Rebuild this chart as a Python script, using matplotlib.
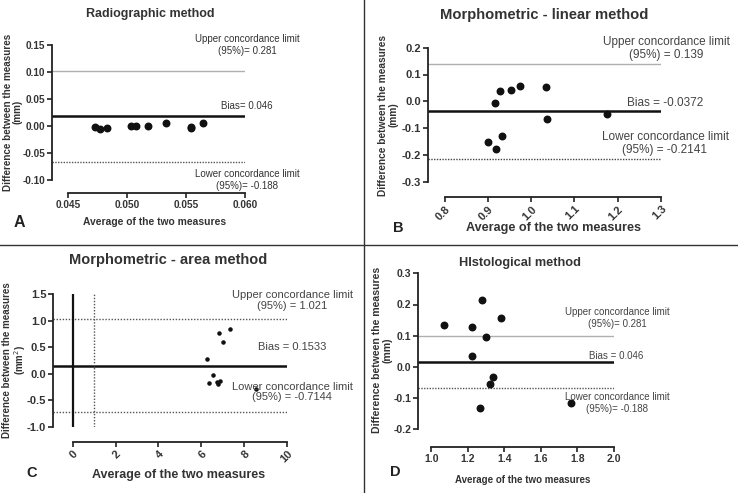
import matplotlib
matplotlib.use('Agg')
import matplotlib.pyplot as plt
from matplotlib.lines import Line2D

plt.rcParams['font.family'] = ['Liberation Sans', 'DejaVu Sans']

W, H = 738, 493

# ---------------- data ----------------
# A - radiographic
a_x = [0.0473, 0.0477, 0.0483, 0.0503, 0.0508, 0.0518, 0.0533, 0.0554, 0.0554, 0.0564]
a_y = [-0.001, -0.006, -0.003, 0.000, 0.000, 0.000, 0.005, -0.001, -0.004, 0.005]
a_lines = [0.102, 0.018, -0.066]   # upper, bias, lower

# B - morphometric linear
b_x = [0.900, 0.919, 0.917, 0.927, 0.932, 0.954, 0.973, 1.035, 1.037, 1.175]
b_y = [-0.153, -0.179, -0.006, 0.039, -0.129, 0.042, 0.057, 0.052, -0.067, -0.047]
b_lines = [0.139, -0.0372, -0.2141]

# C - morphometric area
c_x = [6.81, 7.01, 7.33, 6.24, 6.52, 6.35, 6.72, 6.86, 6.78, 8.55]
c_y = [0.775, 0.60, 0.84, 0.276, -0.02, -0.175, -0.16, -0.13, -0.20, -0.29]
c_lines = [1.021, 0.1533, -0.7144]
c_vlines = [0.0, 1.0]

# D - histological
d_x = [1.071, 1.224, 1.277, 1.383, 1.297, 1.221, 1.336, 1.321, 1.268, 1.765]
d_y = [0.133, 0.128, 0.216, 0.158, 0.095, 0.036, -0.031, -0.055, -0.132, -0.116]
d_lines = [0.100, 0.016, -0.069]

PX = 72 / 100  # points per pixel


def add_ax(l, t, r, b):
    return fig.add_axes([l / W, 1 - b / H, (r - l) / W, (b - t) / H])


def ftext(x, y, s, **kw):
    kw.setdefault('ha', 'center')
    kw.setdefault('va', 'center')
    fig.text(x / W, 1 - y / H, s, **kw)


def style(ax, off_px, xb, yb, ticksize=7.5, rot=False):
    for s in ['top', 'right']:
        ax.spines[s].set_visible(False)
    for s in ['left', 'bottom']:
        ax.spines[s].set_linewidth(1.3)
        ax.spines[s].set_color('#222222')
    ax.spines['bottom'].set_position(('outward', off_px * PX))
    ax.spines['bottom'].set_bounds(*xb)
    ax.spines['left'].set_bounds(*yb)
    ax.tick_params(direction='out', length=3.5, width=1.2, color='#222222',
                   labelsize=ticksize, pad=1.5)
    for lab in ax.get_xticklabels() + ax.get_yticklabels():
        lab.set_fontweight('bold')
        lab.set_color('#333333')
    if rot:
        for lab in ax.get_xticklabels():
            lab.set_rotation(45)
            lab.set_ha('right')
            lab.set_va('top')
            lab.set_rotation_mode('anchor')


fig = plt.figure(figsize=(W / 100, H / 100), dpi=100)

# ---------------- A ----------------
ax = add_ax(52, 45, 245, 180)
ax.set_xlim(0.04364, 0.060)
ax.set_ylim(-0.10, 0.15)
ax.axhline(a_lines[0], color='#b0b0b0', lw=1)
ax.axhline(a_lines[1], color='#111111', lw=1.8)
ax.axhline(a_lines[2], color='#555555', lw=1, ls=(0, (1, 1)))
ax.scatter(a_x, a_y, s=22, color='#111111', zorder=3)
ax.set_xticks([0.045, 0.050, 0.055, 0.060])
ax.set_xticklabels(['0.045', '0.050', '0.055', '0.060'])
ax.set_yticks([-0.10, -0.05, 0.00, 0.05, 0.10, 0.15])
ax.set_yticklabels(['-0.10', '-0.05', '0.00', '0.05', '0.10', '0.15'])
style(ax, 13, (0.045, 0.060), (-0.10, 0.15), ticksize=7.2)
ftext(150, 14, 'Radiographic method', fontsize=9, fontweight='bold', color='#333333')
ftext(13, 112, 'Difference between the measures\n(mm)', rotation=90, fontsize=7.1,
      fontweight='bold', color='#333333', linespacing=1.0)
ftext(155, 222, 'Average of the two measures', fontsize=7.4, fontweight='bold', color='#333333')
ftext(19, 222, 'A', fontsize=11.5, fontweight='bold', color='#222222')
ftext(247, 45, 'Upper concordance limit\n(95%)= 0.281', fontsize=7, color='#333333', linespacing=1.15)
ftext(247, 106, 'Bias= 0.046', fontsize=7, color='#333333')
ftext(247, 180, 'Lower concordance limit\n(95%)= -0.188', fontsize=7, color='#333333', linespacing=1.15)

# ---------------- B ----------------
ax = add_ax(428, 47.7, 661, 181.7)
ax.set_xlim(0.7615, 1.3)
ax.set_ylim(-0.3, 0.2)
ax.axhline(b_lines[0], color='#b0b0b0', lw=1)
ax.axhline(b_lines[1], color='#111111', lw=1.8)
ax.axhline(b_lines[2], color='#444444', lw=1, ls=(0, (1, 1)))
ax.scatter(b_x, b_y, s=22, color='#111111', zorder=3)
ax.set_xticks([0.8, 0.9, 1.0, 1.1, 1.2, 1.3])
ax.set_xticklabels(['0.8', '0.9', '1.0', '1.1', '1.2', '1.3'])
ax.set_yticks([-0.3, -0.2, -0.1, 0.0, 0.1, 0.2])
ax.set_yticklabels(['-0.3', '-0.2', '-0.1', '0.0', '0.1', '0.2'])
style(ax, 15.3, (0.8, 1.3), (-0.3, 0.2), ticksize=8, rot=True)
ftext(544, 15, 'Morphometric - linear method', fontsize=10.6, fontweight='bold', color='#333333')
ftext(388, 115, 'Difference between the measures\n(mm)', rotation=90, fontsize=7.3,
      fontweight='bold', color='#333333', linespacing=1.1)
ftext(553, 228, 'Average of the two measures', fontsize=9.1, fontweight='bold', color='#333333')
ftext(398, 228, 'B', fontsize=10.5, fontweight='bold', color='#222222')
ftext(666, 48.5, 'Upper concordance limit\n(95%) = 0.139', fontsize=8.5, color='#444444', linespacing=1.1)
ftext(665, 103, 'Bias = -0.0372', fontsize=8.5, color='#444444')
ftext(665, 143.5, 'Lower concordance limit\n(95%) = -0.2141', fontsize=8.5, color='#444444', linespacing=1.1)

# ---------------- C ----------------
ax = add_ax(53.3, 294, 287.3, 427)
ax.set_xlim(-0.9, 10)
ax.set_ylim(-1.0, 1.5)
ax.axhline(c_lines[0], color='#555555', lw=1, ls=(0, (1, 1.2)))
ax.axhline(c_lines[1], color='#111111', lw=1.8)
ax.axhline(c_lines[2], color='#555555', lw=1, ls=(0, (1, 1.2)))
ax.axvline(c_vlines[0], color='#111111', lw=1.6)
ax.axvline(c_vlines[1], color='#555555', lw=1, ls=(0, (1, 1.2)))
ax.scatter(c_x, c_y, s=5, color='#111111', zorder=3)
ax.set_xticks([0, 2, 4, 6, 8, 10])
ax.set_xticklabels(['0', '2', '4', '6', '8', '10'])
ax.set_yticks([-1.0, -0.5, 0.0, 0.5, 1.0, 1.5])
ax.set_yticklabels(['-1.0', '-0.5', '0.0', '0.5', '1.0', '1.5'])
style(ax, 14.7, (0, 10), (-1.0, 1.5), ticksize=8, rot=True)
ftext(168, 260, 'Morphometric - area method', fontsize=10.5, fontweight='bold', color='#333333')
ftext(15, 360, 'Difference between the measures\n(mm$^2$)', rotation=90, fontsize=7,
      fontweight='bold', color='#333333', linespacing=1.0)
ftext(179, 475, 'Average of the two measures', fontsize=9, fontweight='bold', color='#333333')
ftext(32, 473, 'C', fontsize=10.5, fontweight='bold', color='#222222')
ftext(292, 300.5, 'Upper concordance limit\n(95%) = 1.021', fontsize=8, color='#444444', linespacing=1.1)
ftext(292, 346.7, 'Bias = 0.1533', fontsize=8, color='#444444')
ftext(292, 392, 'Lower concordance limit\n(95%) = -0.7144', fontsize=8, color='#444444', linespacing=1.1)

# ---------------- D ----------------
ax = add_ax(418, 273.3, 614, 429.3)
ax.set_xlim(0.927, 2.0)
ax.set_ylim(-0.2, 0.3)
ax.axhline(d_lines[0], color='#b0b0b0', lw=1)
ax.axhline(d_lines[1], color='#111111', lw=1.8)
ax.axhline(d_lines[2], color='#555555', lw=1, ls=(0, (1, 1)))
ax.scatter(d_x, d_y, s=22, color='#111111', zorder=3)
ax.set_xticks([1.0, 1.2, 1.4, 1.6, 1.8, 2.0])
ax.set_xticklabels(['1.0', '1.2', '1.4', '1.6', '1.8', '2.0'])
ax.set_yticks([-0.2, -0.1, 0.0, 0.1, 0.2, 0.3])
ax.set_yticklabels(['-0.2', '-0.1', '0.0', '0.1', '0.2', '0.3'])
style(ax, 17.4, (1.0, 2.0), (-0.2, 0.3), ticksize=7.5)
ftext(520, 263, 'HIstological method', fontsize=9.2, fontweight='bold', color='#333333')
ftext(382, 350, 'Difference between the measures\n(mm)', rotation=90, fontsize=7.6,
      fontweight='bold', color='#333333', linespacing=1.0)
ftext(523, 480, 'Average of the two measures', fontsize=7, fontweight='bold', color='#333333')
ftext(395, 472, 'D', fontsize=10.5, fontweight='bold', color='#222222')
ftext(617, 318, 'Upper concordance limit\n(95%)= 0.281', fontsize=7, color='#444444', linespacing=1.15)
ftext(616, 356, 'Bias = 0.046', fontsize=7, color='#444444')
ftext(617, 403, 'Lower concordance limit\n(95%)= -0.188', fontsize=7, color='#444444', linespacing=1.15)

# dividing lines
fig.add_artist(Line2D([364 / W, 364 / W], [0, 1], color='#333333', lw=1))
fig.add_artist(Line2D([0, 1], [1 - 245.5 / H, 1 - 245.5 / H], color='#333333', lw=1))

fig.savefig('out.png', dpi=100)
